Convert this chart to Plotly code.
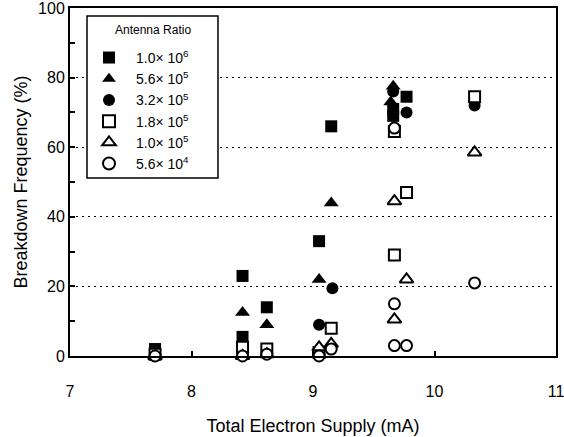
import plotly.graph_objects as go

# ---- data ----
series_names = ["1.0× 10<sup>6</sup>", "5.6× 10<sup>5</sup>", "3.2× 10<sup>5</sup>",
                "1.8× 10<sup>5</sup>", "1.0× 10<sup>5</sup>", "5.6× 10<sup>4</sup>"]
legend_title = "Antenna Ratio"

s1_x = [7.70, 8.42, 8.42, 8.62, 9.05, 9.15, 9.66, 9.66, 9.77]
s1_y = [2.0, 23.0, 5.5, 14.0, 33.0, 66.0, 69.0, 71.0, 74.5]

s2_x = [7.70, 8.42, 8.62, 9.05, 9.15, 9.64, 9.66]
s2_y = [0.0, 12.5, 9.0, 22.0, 44.0, 73.0, 77.5]

s3_x = [7.70, 8.42, 8.62, 9.05, 9.16, 9.66, 9.77, 10.33]
s3_y = [0.0, 1.0, 2.0, 9.0, 19.5, 76.0, 70.0, 72.0]

s4_x = [7.70, 8.42, 8.62, 9.05, 9.15, 9.67, 9.77, 9.67, 10.33]
s4_y = [0.5, 2.5, 2.0, 1.0, 8.0, 64.5, 47.0, 29.0, 74.5]

s5_x = [7.70, 8.42, 8.62, 9.05, 9.15, 9.67, 9.77, 9.67, 10.33]
s5_y = [0.0, 0.0, 0.5, 2.5, 3.5, 44.5, 22.0, 10.5, 58.5]

s6_x = [7.70, 8.42, 8.62, 9.05, 9.15, 9.67, 9.67, 9.67, 9.77, 10.33]
s6_y = [0.0, 0.0, 0.5, 0.0, 2.0, 65.5, 15.0, 3.0, 3.0, 21.0]

x_ticks = [7, 8, 9, 10, 11]
y_ticks = [0, 20, 40, 60, 80, 100]

xs = [s1_x, s2_x, s3_x, s4_x, s5_x, s6_x]
ys = [s1_y, s2_y, s3_y, s4_y, s5_y, s6_y]
symbols = ["square", "triangle-up", "circle", "square", "triangle-up", "circle"]
fills = ["black", "black", "black", "white", "white", "white"]
sizes = [12, 13, 12, 11, 12, 11]

FONT = "Liberation Sans, Arial, sans-serif"

fig = go.Figure()
for i, (name, x, y, sym, fc, sz) in enumerate(zip(series_names, xs, ys, symbols, fills, sizes)):
    fig.add_trace(go.Scatter(
        x=x, y=y, mode="markers", name=name, legendgroup=f"g{i}",
        marker=dict(symbol=sym, size=sz, color=fc,
                    line=dict(color="black", width=2 if fc == "white" else 0)),
        cliponaxis=False,
    ))

# legend frame and title (drawn as shape + annotation for exact placement)
fig.add_shape(type="rect", xref="paper", yref="paper",
              x0=0.035, x1=0.3045, y0=0.5115, y1=0.977,
              line=dict(color="black", width=1.5), fillcolor="white", layer="above")
fig.add_annotation(text=legend_title, xref="paper", yref="paper",
                   x=0.17, y=0.937, xanchor="center", yanchor="middle", showarrow=False,
                   font=dict(family=FONT, size=12, color="black"))

fig.update_layout(
    width=564, height=437,
    template="none",
    paper_bgcolor="white", plot_bgcolor="white",
    margin=dict(l=70, r=8, t=8, b=81),
    font=dict(family=FONT, color="black"),
    showlegend=True,
    legend=dict(
        x=0.0247, y=0.9025, xanchor="left", yanchor="top",
        bgcolor="rgba(0,0,0,0)", borderwidth=0,
        font=dict(family=FONT, size=14, color="black"),
        itemsizing="constant",
        itemwidth=44,
        tracegroupgap=0,
    ),
    xaxis=dict(
        range=[7, 11], tickvals=x_ticks, ticktext=[str(v) for v in x_ticks],
        showgrid=False, zeroline=False, automargin=False,
        showline=True, linecolor="black", linewidth=2, mirror=True,
        ticks="inside", ticklen=5, tickwidth=1.5, tickcolor="black",
        tickfont=dict(family=FONT, size=16, color="black"),
        ticklabelstandoff=20, ticklabeloverflow="allow",
        title=dict(text="Total Electron Supply (mA)", standoff=20,
                   font=dict(family=FONT, size=18, color="black")),
    ),
    yaxis=dict(
        range=[0, 100], tickvals=y_ticks, ticktext=[str(v) for v in y_ticks],
        showgrid=True, gridcolor="black", gridwidth=1, griddash="2px,4px",
        zeroline=False, automargin=False,
        showline=True, linecolor="black", linewidth=2, mirror=True,
        ticks="inside", ticklen=5, tickwidth=1.5, tickcolor="black",
        minor=dict(ticks="inside", ticklen=5, dtick=10, tickcolor="black", tickwidth=1.5, showgrid=False),
        tickfont=dict(family=FONT, size=16, color="black"),
        ticklabeloverflow="allow",
        title=dict(text="Breakdown Frequency (%)", standoff=6,
                   font=dict(family=FONT, size=18, color="black")),
    ),
)

fig.write_html("out.html")
